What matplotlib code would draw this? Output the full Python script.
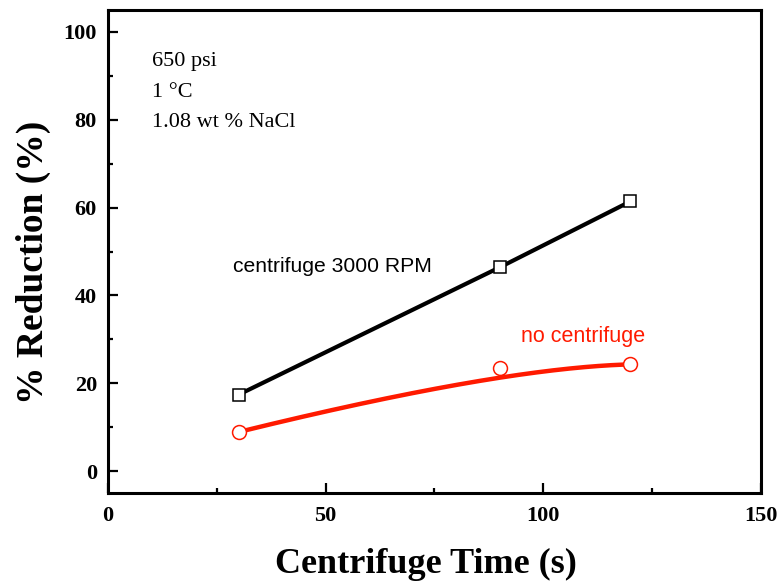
import numpy as np
import matplotlib
matplotlib.use('Agg')
import matplotlib.pyplot as plt
from matplotlib.ticker import MultipleLocator

# centrifuge time (s) vs. % reduction
time_s = [30, 90, 120]
reduction_3000rpm = [17.4, 46.4, 61.4]
reduction_none = [8.9, 23.5, 24.3]

conditions = ['650 psi', '1 \u00b0C', '1.08 wt % NaCl']


def bspline(xs, ys, n=200):
    # quadratic B-spline through the 3 points used as control points
    t = np.linspace(0, 1, n)[:, None]
    p = np.column_stack([xs, ys]).astype(float)
    c = (1 - t) ** 2 * p[0] + 2 * t * (1 - t) * p[1] + t ** 2 * p[2]
    return c[:, 0], c[:, 1]


plt.rcParams['font.family'] = 'Liberation Serif'

fig = plt.figure(figsize=(7.8, 5.88), dpi=100)
ax = fig.add_axes([0.1385, 0.1615, 0.837, 0.8215])

ax.plot(time_s, reduction_3000rpm, color='black', lw=3, marker='s', ms=9,
        mfc='white', mec='black', mew=1.1, zorder=3)

cx, cy = bspline(time_s, reduction_none)
ax.plot(cx, cy, color='#ff1a00', lw=3.2, zorder=2)
ax.plot(time_s, reduction_none, ls='none', marker='o', ms=10,
        mfc='white', mec='#ff1a00', mew=1.1, zorder=3)

ax.set_xlim(0, 150)
ax.set_ylim(-5, 105)
ax.xaxis.set_major_locator(MultipleLocator(50))
ax.xaxis.set_minor_locator(MultipleLocator(25))
ax.yaxis.set_major_locator(MultipleLocator(20))
ax.yaxis.set_minor_locator(MultipleLocator(10))
ax.set_yticks(np.arange(0, 101, 20))

for s in ax.spines.values():
    s.set_linewidth(2.2)
ax.tick_params(which='both', direction='in', width=1.6, top=False, right=False)
ax.tick_params(which='major', length=7)
ax.tick_params(which='minor', length=3.6)
ax.tick_params(axis='x', pad=9.5)
ax.tick_params(axis='y', pad=8)
for lab in ax.get_xticklabels() + ax.get_yticklabels():
    lab.set_fontsize(16)
    lab.set_fontweight('bold')

ax.set_xlabel('Centrifuge Time (s)', fontsize=26, fontweight='bold')
ax.xaxis.set_label_coords(0.487, -0.113)
ax.set_ylabel('% Reduction (%)', fontsize=27, fontweight='bold')
ax.yaxis.set_label_coords(-0.087, 0.477)

for i, line in enumerate(conditions):
    ax.text(10.1, 92.2 - 6.9 * i, line, fontsize=16, ha='left', va='baseline')

ax.text(28.7, 45.3, 'centrifuge 3000 RPM', fontsize=15.2, family='Liberation Sans',
        color='black', ha='left', va='baseline')
ax.text(94.8, 29.5, 'no centrifuge', fontsize=15.5, family='Liberation Sans',
        color='#ff1a00', ha='left', va='baseline')

fig.savefig('out.png', dpi=100)
